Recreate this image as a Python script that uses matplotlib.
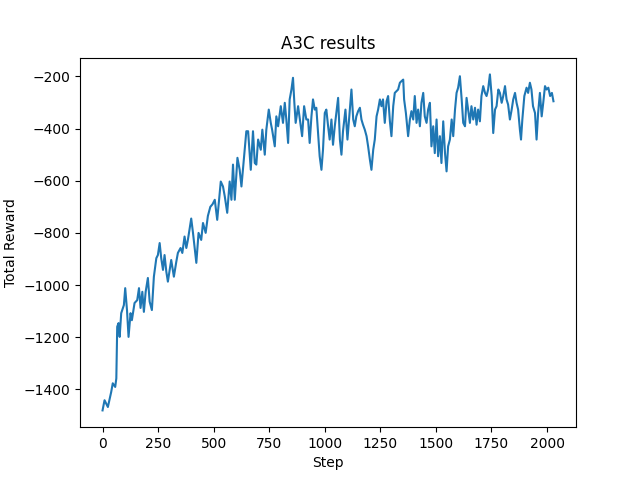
import matplotlib
matplotlib.use('Agg')
import matplotlib.pyplot as plt

# values
steps = [0, 9, 24, 39, 46, 57, 62, 66, 72, 77, 84, 96, 102, 110, 117, 126, 132, 144, 156, 164,
         171, 179, 186, 194, 204, 212, 222, 231, 242, 249, 257, 264, 272, 279, 287, 294, 309, 321, 332, 339,
         351, 359, 369, 377, 384, 399, 407, 422, 432, 444, 452, 464, 474, 485, 495, 505, 516, 532, 542, 550,
         561, 572, 580, 587, 595, 607, 617, 625, 637, 647, 655, 667, 677, 685, 692, 700, 712, 719, 730, 737,
         748, 757, 763, 775, 782, 790, 802, 812, 820, 827, 835, 842, 850, 857, 863, 869, 880, 892, 898, 907,
         917, 925, 932, 940, 947, 955, 962, 970, 977, 985, 992, 1000, 1007, 1015, 1022, 1030, 1037, 1045, 1052, 1060,
         1068, 1075, 1082, 1093, 1102, 1113, 1120, 1128, 1135, 1142, 1150, 1158, 1165, 1172, 1180, 1188, 1195, 1203, 1210, 1218,
         1225, 1233, 1240, 1248, 1255, 1262, 1270, 1278, 1285, 1293, 1300, 1308, 1315, 1323, 1330, 1338, 1345, 1353, 1357, 1365,
         1375, 1383, 1390, 1398, 1405, 1413, 1420, 1428, 1435, 1443, 1450, 1458, 1465, 1473, 1480, 1488, 1495, 1503, 1510, 1518,
         1525, 1533, 1541, 1548, 1555, 1563, 1571, 1578, 1586, 1593, 1600, 1608, 1616, 1623, 1631, 1638, 1645, 1653, 1660, 1668,
         1676, 1683, 1690, 1698, 1705, 1713, 1721, 1728, 1735, 1743, 1751, 1758, 1766, 1773, 1781, 1788, 1796, 1803, 1811, 1818,
         1825, 1833, 1841, 1848, 1856, 1863, 1870, 1878, 1883, 1889, 1898, 1908, 1915, 1923, 1930, 1937, 1946, 1953, 1960, 1968,
         1976, 1983, 1991, 1998, 2006, 2014, 2022, 2029]

rewards = [-1481, -1442, -1468, -1410, -1377, -1391, -1358, -1160, -1146, -1199, -1108, -1077, -1012, -1096, -1199, -1108, -1135, -1069, -1058, -1012,
           -1088, -1026, -1103, -1026, -973, -1064, -1096, -968, -897, -885, -839, -897, -942, -885, -949, -987, -904, -968, -910, -877,
           -858, -877, -814, -858, -827, -745, -800, -915, -800, -827, -762, -800, -735, -700, -690, -673, -750, -603, -622, -660,
           -723, -603, -673, -538, -673, -512, -558, -622, -506, -410, -410, -558, -410, -532, -538, -442, -481, -404, -500, -404,
           -327, -378, -404, -468, -353, -391, -314, -378, -301, -365, -455, -288, -250, -205, -300, -378, -314, -391, -429, -314,
           -365, -365, -455, -353, -288, -327, -320, -417, -506, -558, -481, -340, -327, -391, -442, -365, -462, -391, -340, -282,
           -442, -500, -410, -327, -442, -327, -250, -365, -391, -353, -333, -320, -365, -385, -404, -429, -468, -519, -558, -481,
           -442, -353, -327, -288, -314, -288, -378, -295, -275, -372, -429, -314, -263, -256, -250, -224, -218, -212, -288, -340,
           -429, -365, -333, -365, -275, -378, -327, -391, -301, -263, -353, -378, -327, -301, -468, -391, -494, -365, -506, -429,
           -532, -372, -494, -564, -468, -442, -365, -429, -327, -263, -243, -199, -288, -378, -391, -282, -327, -378, -314, -365,
           -320, -385, -327, -372, -275, -237, -263, -275, -250, -192, -275, -417, -327, -314, -250, -263, -301, -275, -237, -288,
           -308, -365, -327, -288, -263, -301, -327, -404, -442, -365, -275, -243, -263, -224, -250, -314, -340, -442, -340, -263,
           -353, -301, -237, -250, -243, -275, -263, -295]

plt.figure(figsize=(6.4, 4.8), dpi=100)
plt.plot(steps, rewards)
plt.title('A3C results')
plt.xlabel('Step')
plt.ylabel('Total Reward')
plt.savefig('out.png')
